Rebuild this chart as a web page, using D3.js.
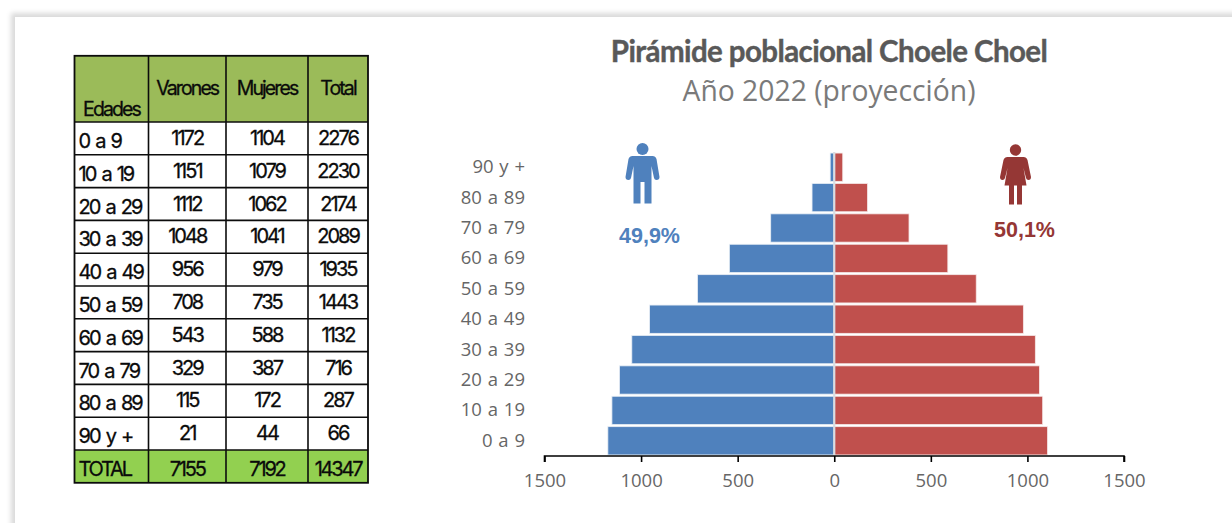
<!DOCTYPE html>
<html><head><meta charset="utf-8">
<script src="https://cdn.jsdelivr.net/npm/d3@7/dist/d3.min.js"></script>
<style>
html,body{margin:0;padding:0;background:#fff;width:1232px;height:523px;overflow:hidden}
svg{position:absolute;left:0;top:0;display:block}
#frame{position:absolute;left:15px;top:17px;width:1300px;height:600px;background:#fff;box-shadow:0 0 5px 4px #dadada}
</style></head><body>
<div id="frame"></div>
<svg id="c" width="1232" height="523"></svg>
<script>
const tableHeader = ["Edades","Varones","Mujeres","Total"];
const ageTable = ["0 a 9","10 a 19","20 a 29","30 a 39","40 a 49","50 a 59","60 a 69","70 a 79","80 a 89","90 y +"];
const varones = [1172,1151,1112,1048,956,708,543,329,115,21];
const mujeres = [1104,1079,1062,1041,979,735,588,387,172,44];
const totales = [2276,2230,2174,2089,1935,1443,1132,716,287,66];
const totalRow = ["TOTAL",7155,7192,14347];
const tickValues = [-1500,-1000,-500,0,500,1000,1500];
const chartTitle = "Pirámide poblacional Choele Choel";
const chartSubtitle = "Año 2022 (proyección)";
const pctVarones = "49,9%";
const pctMujeres = "50,1%";

const svg = d3.select("#c");
const tableFont = "Inter, Lato, sans-serif";

/* ---------- table ---------- */
const colEdges = [74.5,148.5,226,308,368];
const rowsY = d3.scaleLinear().domain([0,10]).range([122,450]);
const tb = svg.append("g");
const rowsData = ageTable.map((a,i)=>[a,varones[i],mujeres[i],totales[i]]);

function cellText(g,col,txt,y,isFirst,size,ls){
  const x0=colEdges[col],x1=colEdges[col+1];
  g.append("text").attr("x",isFirst?x0+4:(x0+x1)/2).attr("y",y)
    .attr("text-anchor",isFirst?"start":"middle")
    .attr("font-family",tableFont).attr("font-size",size).attr("font-weight",400)
    .attr("letter-spacing",ls).attr("word-spacing",isFirst?2.5:0)
    .attr("fill","#0a0a0a").attr("stroke","#0a0a0a").attr("stroke-width",0.3).text(txt);
}
tb.append("rect").attr("x",colEdges[0]).attr("y",56).attr("width",colEdges[4]-colEdges[0]).attr("height",66).attr("fill","#9bbb59");
tb.append("rect").attr("x",colEdges[0]).attr("y",rowsY(10)).attr("width",colEdges[4]-colEdges[0]).attr("height",33).attr("fill","#92d050");
tableHeader.forEach((h,i)=>cellText(tb,i,h,i===0?116:95,false,19.5,-1.9));
rowsData.forEach((r,ri)=>{
  r.forEach((v,ci)=>{
    const base=rowsY(ri);
    cellText(tb,ci,v,ci===0?base+26:base+23,ci===0,20,-2);
  });
});
totalRow.forEach((v,ci)=>cellText(tb,ci,v,rowsY(10)+26,ci===0,20,-2.2));
const lineCol="#0c0c0c";
d3.range(0,11).forEach(i=>tb.append("line").attr("x1",colEdges[0]).attr("x2",colEdges[4]).attr("y1",rowsY(i)).attr("y2",rowsY(i)).attr("stroke",lineCol).attr("stroke-width",1.6));
tb.append("rect").attr("x",colEdges[0]).attr("y",55.8).attr("width",colEdges[4]-colEdges[0]).attr("height",427).attr("fill","none").attr("stroke",lineCol).attr("stroke-width",1.8);
colEdges.slice(1,4).forEach(x=>tb.append("line").attr("x1",x).attr("x2",x).attr("y1",56).attr("y2",482.8).attr("stroke",lineCol).attr("stroke-width",1.6));

/* ---------- chart ---------- */
const x = d3.scaleLinear().domain([-1500,1500]).range([544.5,1124]);
const y = d3.scaleBand().domain(ageTable).range([456,152]).paddingInner(0.07).paddingOuter(0.035);

svg.append("g").selectAll("rect").data(ageTable).join("rect")
  .attr("x",(d,i)=>x(-varones[i])).attr("y",d=>y(d))
  .attr("width",(d,i)=>x(0)-x(-varones[i])).attr("height",y.bandwidth())
  .attr("fill","#4f81bd").attr("stroke","#e8eef5").attr("stroke-width",0.8);
svg.append("g").selectAll("rect").data(ageTable).join("rect")
  .attr("x",x(0)).attr("y",d=>y(d))
  .attr("width",(d,i)=>x(mujeres[i])-x(0)).attr("height",y.bandwidth())
  .attr("fill","#c0504d").attr("stroke","#f5e8e8").attr("stroke-width",0.8);
svg.append("line").attr("x1",x(0)).attr("x2",x(0)).attr("y1",152).attr("y2",455).attr("stroke","#d9dde2").attr("stroke-width",2.2);

const axis = d3.axisBottom(x).tickValues(tickValues).tickFormat(d=>Math.abs(d)).tickSize(6).tickPadding(12);
const ax = svg.append("g").attr("transform","translate(0,456)").call(axis);
ax.select(".domain").attr("stroke","#000").attr("stroke-width",1.6).attr("d",`M${x(-1500)},6V0H${x(1500)}V6`);
ax.selectAll(".tick line").attr("stroke","#000").attr("stroke-width",1.6);
ax.selectAll("text").attr("font-family","'Open Sans',sans-serif").attr("font-size",18.5).attr("fill","#666");

svg.append("g").selectAll("text").data(ageTable).join("text")
  .attr("x",525).attr("y",d=>y(d)+y.bandwidth()/2+6).attr("text-anchor","end")
  .attr("font-family","'Open Sans',sans-serif").attr("font-size",18.5).attr("fill","#666").attr("word-spacing",1).text(d=>d);

/* ---------- titles ---------- */
svg.append("text").attr("x",829).attr("y",62).attr("text-anchor","middle")
  .attr("font-family","Lato,sans-serif").attr("font-size",29.5).attr("font-weight",700).attr("letter-spacing",-0.6)
  .attr("stroke","#595959").attr("stroke-width",0.4).attr("fill","#595959").text(chartTitle);
svg.append("text").attr("x",829).attr("y",101).attr("text-anchor","middle")
  .attr("font-family","'Open Sans',sans-serif").attr("font-size",28.3).attr("fill","#7a7a7a").text(chartSubtitle);

svg.append("text").attr("x",649.5).attr("y",243).attr("text-anchor","middle")
  .attr("font-family","'Liberation Sans',sans-serif").attr("font-weight",700).attr("font-size",21.5).attr("fill","#4f81bd").text(pctVarones);
svg.append("text").attr("x",1024.5).attr("y",237).attr("text-anchor","middle")
  .attr("font-family","'Liberation Sans',sans-serif").attr("font-weight",700).attr("font-size",21.5).attr("fill","#953735").text(pctMujeres);

/* ---------- pictograms ---------- */
const man = svg.append("g").attr("transform","translate(642.5,0)").attr("fill","#4f81bd");
man.append("circle").attr("cx",0).attr("cy",149).attr("r",6);
man.append("path").attr("d","M-10,156 H10 Q13,156 14,159 L17,177 Q17,180 14,180 Q12,180 11.5,178 L9,166 V203.5 H2 V182 H-2 V203.5 H-9 V166 L-11.5,178 Q-12,180 -14,180 Q-17,180 -17,177 L-14,159 Q-13,156 -10,156 Z");
const woman = svg.append("g").attr("transform","translate(1015.5,0)").attr("fill","#953735");
woman.append("circle").attr("cx",0).attr("cy",150).attr("r",5.7);
woman.append("path").attr("d","M-8,157 H8 Q11,157 12,160 L15.5,177 Q15.5,180 13,180 Q11,180 10.5,178 L8,168 L11,185.5 H6.5 V204.5 H1.5 V185.5 H-1.5 V204.5 H-6.5 V185.5 H-11 L-8,168 L-10.5,178 Q-11,180 -13,180 Q-15.5,180 -15.5,177 L-12,160 Q-11,157 -8,157 Z");
</script>
</body></html>
